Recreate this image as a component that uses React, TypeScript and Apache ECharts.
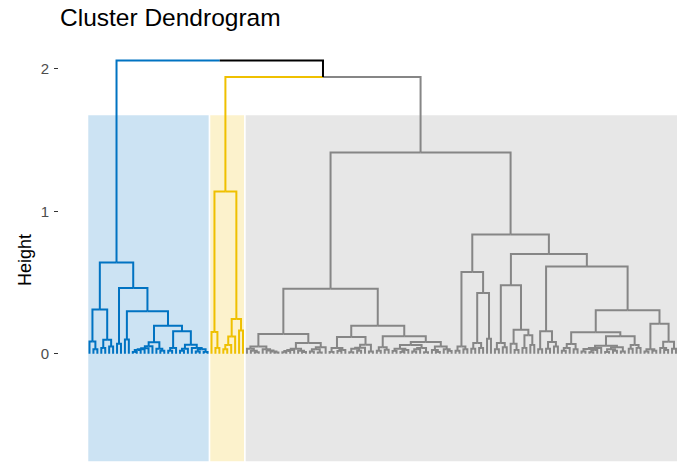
import React, { useEffect, useRef } from "react";
import * as echarts from "echarts";

// ---- data ----
const chartTitle = "Cluster Dendrogram";
const yAxisTitle = "Height";
const yTicks = [0, 1, 2];
const clusterColors = ["#0073C2", "#EFC000", "#868686"];
const rectFills = ["#CCE3F3", "#FCF2CC", "#E7E7E7"];
const trunkColor = "#000000";
// heights of the merges joining neighbouring clusters (blue|yellow, yellow|grey)
const topMerges = [2.056, 1.94];
// merge height between each pair of neighbouring leaves, per cluster
const blueGaps = [
  0.086, 0.03, 0.309, 0.04, 0.098, 0.05, 0.639, 0.07, 0.46, 0.1,
  0.297, 0.012, 0.025, 0.03, 0.038, 0.052, 0.08, 0.035, 0.02, 0.196,
  0.02, 0.04, 0.157, 0.02, 0.035, 0.063, 0.04, 0.015, 0.03, 0.012,
];
const yellowGaps = [0.152, 0.04, 1.137, 0.03, 0.06, 0.12, 0.243, 0.163];
const greyGaps = [
  0.035, 0.02, 0.01, 0.051, 0.03, 0.022, 0.015, 0.008, 0.138, 0.01,
  0.018, 0.026, 0.034, 0.02, 0.012, 0.075, 0.015, 0.03, 0.008, 0.045,
  0.456, 0.012, 0.04, 0.018, 0.025, 0.117, 0.01, 0.035, 0.02, 0.042,
  0.063, 0.015, 0.196, 0.02, 0.045, 0.028, 0.122, 0.018, 0.035, 0.012,
  0.025, 0.06, 0.015, 0.03, 0.04, 0.01, 0.082, 0.025, 0.012, 0.05,
  0.03, 0.018, 1.411, 0.02, 0.05, 0.03, 0.573, 0.035, 0.075, 0.04,
  0.425, 0.105, 0.835, 0.03, 0.075, 0.045, 0.48, 0.07, 0.025, 0.168,
  0.04, 0.129, 0.06, 0.699, 0.03, 0.157, 0.035, 0.082, 0.05, 0.612,
  0.02, 0.04, 0.068, 0.03, 0.15, 0.015, 0.032, 0.01, 0.025, 0.04,
  0.056, 0.012, 0.03, 0.02, 0.045, 0.015, 0.122, 0.035, 0.06, 0.04,
  0.304, 0.015, 0.03, 0.02, 0.21, 0.04, 0.025, 0.084, 0.035,
];
const rectTop = 1.677;
const yMin = -0.76;
const yMax = 2.2;

const fontFamily = "'Liberation Sans', Arial, Helvetica, sans-serif";

// ---- build dendrogram from adjacent-leaf merge heights ----
const clusterGaps = [blueGaps, yellowGaps, greyGaps];
const gaps: number[] = [];
const leafCluster: number[] = [];
clusterGaps.forEach((g, c) => {
  for (let k = 0; k <= g.length; k++) leafCluster.push(c);
  gaps.push(...g);
  if (c < topMerges.length) gaps.push(topMerges[c]);
});
const nLeaves = leafCluster.length;

type DNode = { x: number; h: number; c: number };
const lineData: any[] = [];
function build(lo: number, hi: number): DNode {
  if (lo === hi) return { x: lo, h: 0, c: leafCluster[lo] };
  let k = lo;
  for (let i = lo + 1; i < hi; i++) if (gaps[i] > gaps[k]) k = i;
  const l = build(lo, k);
  const r = build(k + 1, hi);
  const h = gaps[k];
  const x = (l.x + r.x) / 2;
  [l, r].forEach((ch) => {
    lineData.push({
      coords: [
        [ch.x, ch.h],
        [ch.x, h],
        [x, h],
      ],
      lineStyle: { color: ch.c >= 0 ? clusterColors[ch.c] : trunkColor },
    });
  });
  return { x, h, c: l.c === r.c ? l.c : -1 };
}
build(0, nLeaves - 1);

const rectData: number[][] = [];
clusterColors.forEach((_, c) => {
  const first = leafCluster.indexOf(c);
  const last = leafCluster.lastIndexOf(c);
  rectData.push([first - 0.5, last + 0.5, yMin, rectTop, c]);
});

export default function App() {
  const ref = useRef<HTMLDivElement>(null);
  useEffect(() => {
    if (!ref.current) return;
    const chart = echarts.init(ref.current, undefined, { renderer: "svg" });
    chart.setOption({
      animation: false,
      title: {
        text: chartTitle,
        left: 60,
        top: 5,
        padding: 0,
        textStyle: { fontSize: 24.5, fontWeight: "normal", color: "#000", fontFamily },
      },
      grid: { left: 58, right: 0, top: 40, bottom: 0 },
      xAxis: { type: "value", min: -8, max: 149.26, show: false },
      yAxis: {
        type: "value",
        min: yMin,
        max: yMax,
        axisLine: { show: false, onZero: false },
        splitLine: { show: false },
        axisTick: { show: true, length: 4, lineStyle: { color: "#333333", width: 1 }, customValues: yTicks },
        axisLabel: { customValues: yTicks, color: "#4D4D4D", fontSize: 15, margin: 9, fontFamily },
      },
      graphic: [
        {
          type: "text",
          x: 25,
          y: 260,
          rotation: Math.PI / 2,
          style: {
            text: yAxisTitle,
            fontSize: 18,
            fill: "#000",
            textAlign: "center",
            textVerticalAlign: "middle",
            fontFamily,
          },
        },
      ],
      series: [
        {
          type: "custom",
          z: 1,
          silent: true,
          data: rectData,
          renderItem: (params: any, api: any) => {
            const p0 = api.coord([api.value(0), api.value(3)]);
            const p1 = api.coord([api.value(1), api.value(2)]);
            return {
              type: "rect",
              shape: { x: p0[0], y: p0[1], width: p1[0] - p0[0], height: p1[1] - p0[1] },
              style: { fill: rectFills[api.value(4)], stroke: "#ffffff", lineWidth: 1.5 },
            };
          },
        },
        {
          type: "lines",
          coordinateSystem: "cartesian2d",
          polyline: true,
          z: 2,
          silent: true,
          lineStyle: { width: 2, opacity: 1 },
          data: lineData,
        },
      ],
    });
    return () => chart.dispose();
  }, []);
  return (
    <div
      ref={ref}
      style={{ position: "absolute", left: 0, top: 0, width: 677, height: 462 }}
    />
  );
}
